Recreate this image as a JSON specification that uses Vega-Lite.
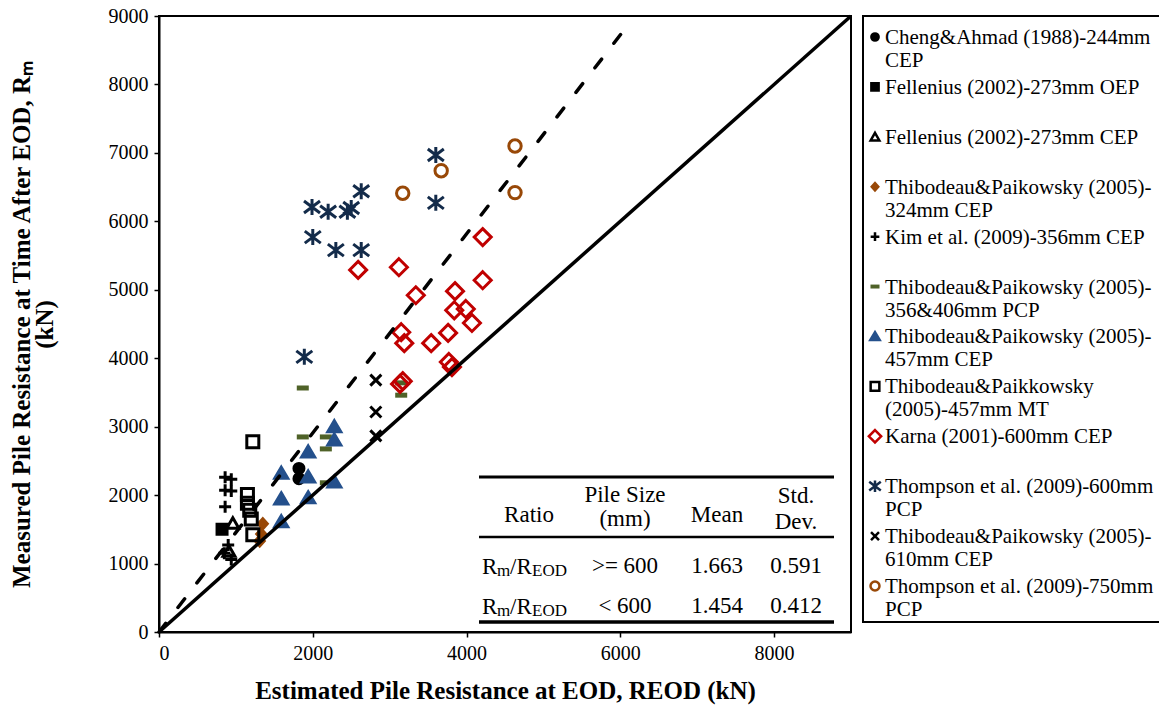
{
  "$schema": "https://vega.github.io/schema/vega-lite/v6.json",
  "background": "white",
  "padding": {"left": 8, "top": 5, "right": 0, "bottom": 5},
  "spacing": 3,
  "config": {
    "font": "Liberation Serif",
    "view": {"stroke": null},
    "axis": {
      "labelFont": "Liberation Serif", "labelFontSize": 20, "labelColor": "black",
      "titleFont": "Liberation Serif", "titleFontSize": 25, "titleFontWeight": "bold", "titleColor": "black",
      "grid": false, "tickColor": "black", "domainColor": "black", "domainWidth": 2, "tickSize": 5, "tickWidth": 1.5, "labelPadding": 6
    },
    "text": {"font": "Liberation Serif", "color": "black"}
  },
  "datasets": {
    "points": [
      {"s": "Cheng&Ahmad (1988)-244mm CEP", "x": 1820, "y": 2390},
      {"s": "Cheng&Ahmad (1988)-244mm CEP", "x": 1820, "y": 2240},
      {"s": "Fellenius (2002)-273mm OEP", "x": 820, "y": 1500},
      {"s": "Fellenius (2002)-273mm CEP", "x": 960, "y": 1590},
      {"s": "Fellenius (2002)-273mm CEP", "x": 910, "y": 1180},
      {"s": "Thibodeau&Paikowsky (2005)-324mm CEP", "x": 1350, "y": 1580},
      {"s": "Thibodeau&Paikowsky (2005)-324mm CEP", "x": 1330, "y": 1430},
      {"s": "Thibodeau&Paikowsky (2005)-324mm CEP", "x": 1310, "y": 1330},
      {"s": "Kim et al. (2009)-356mm CEP", "x": 860, "y": 2260},
      {"s": "Kim et al. (2009)-356mm CEP", "x": 940, "y": 2230},
      {"s": "Kim et al. (2009)-356mm CEP", "x": 860, "y": 2070},
      {"s": "Kim et al. (2009)-356mm CEP", "x": 940, "y": 2060},
      {"s": "Kim et al. (2009)-356mm CEP", "x": 860, "y": 1830},
      {"s": "Kim et al. (2009)-356mm CEP", "x": 900, "y": 1270},
      {"s": "Kim et al. (2009)-356mm CEP", "x": 850, "y": 1150},
      {"s": "Kim et al. (2009)-356mm CEP", "x": 940, "y": 1060},
      {"s": "Thibodeau&Paikowsky (2005)-356&406mm PCP", "x": 1870, "y": 3565},
      {"s": "Thibodeau&Paikowsky (2005)-356&406mm PCP", "x": 1870, "y": 2850},
      {"s": "Thibodeau&Paikowsky (2005)-356&406mm PCP", "x": 2170, "y": 2850},
      {"s": "Thibodeau&Paikowsky (2005)-356&406mm PCP", "x": 2170, "y": 2675},
      {"s": "Thibodeau&Paikowsky (2005)-356&406mm PCP", "x": 2170, "y": 2180},
      {"s": "Thibodeau&Paikowsky (2005)-356&406mm PCP", "x": 3150, "y": 3460},
      {"s": "Thibodeau&Paikowsky (2005)-356&406mm PCP", "x": 3150, "y": 3640},
      {"s": "Thibodeau&Paikowsky (2005)-457mm CEP", "x": 2280, "y": 3000},
      {"s": "Thibodeau&Paikowsky (2005)-457mm CEP", "x": 2280, "y": 2805},
      {"s": "Thibodeau&Paikowsky (2005)-457mm CEP", "x": 1940, "y": 2630},
      {"s": "Thibodeau&Paikowsky (2005)-457mm CEP", "x": 1590, "y": 2320},
      {"s": "Thibodeau&Paikowsky (2005)-457mm CEP", "x": 1940, "y": 2265},
      {"s": "Thibodeau&Paikowsky (2005)-457mm CEP", "x": 2280, "y": 2190},
      {"s": "Thibodeau&Paikowsky (2005)-457mm CEP", "x": 1590, "y": 1945},
      {"s": "Thibodeau&Paikowsky (2005)-457mm CEP", "x": 1940, "y": 1960},
      {"s": "Thibodeau&Paikowsky (2005)-457mm CEP", "x": 1590, "y": 1610},
      {"s": "Thibodeau&Paikkowsky (2005)-457mm MT", "x": 1220, "y": 2780},
      {"s": "Thibodeau&Paikkowsky (2005)-457mm MT", "x": 1150, "y": 2010},
      {"s": "Thibodeau&Paikkowsky (2005)-457mm MT", "x": 1150, "y": 1880},
      {"s": "Thibodeau&Paikkowsky (2005)-457mm MT", "x": 1180, "y": 1780},
      {"s": "Thibodeau&Paikkowsky (2005)-457mm MT", "x": 1200, "y": 1650},
      {"s": "Thibodeau&Paikkowsky (2005)-457mm MT", "x": 1220, "y": 1420},
      {"s": "Karna (2001)-600mm CEP", "x": 2590, "y": 5290},
      {"s": "Karna (2001)-600mm CEP", "x": 3120, "y": 5330},
      {"s": "Karna (2001)-600mm CEP", "x": 4210, "y": 5770},
      {"s": "Karna (2001)-600mm CEP", "x": 4210, "y": 5140},
      {"s": "Karna (2001)-600mm CEP", "x": 3340, "y": 4920},
      {"s": "Karna (2001)-600mm CEP", "x": 3850, "y": 4980},
      {"s": "Karna (2001)-600mm CEP", "x": 3840, "y": 4700},
      {"s": "Karna (2001)-600mm CEP", "x": 3990, "y": 4720},
      {"s": "Karna (2001)-600mm CEP", "x": 4070, "y": 4515},
      {"s": "Karna (2001)-600mm CEP", "x": 3760, "y": 4370},
      {"s": "Karna (2001)-600mm CEP", "x": 3150, "y": 4380},
      {"s": "Karna (2001)-600mm CEP", "x": 3190, "y": 4220},
      {"s": "Karna (2001)-600mm CEP", "x": 3540, "y": 4220},
      {"s": "Karna (2001)-600mm CEP", "x": 3770, "y": 3945},
      {"s": "Karna (2001)-600mm CEP", "x": 3810, "y": 3870},
      {"s": "Karna (2001)-600mm CEP", "x": 3170, "y": 3665},
      {"s": "Karna (2001)-600mm CEP", "x": 3135, "y": 3625},
      {"s": "Thompson et al. (2009)-600mm PCP", "x": 1990, "y": 6210},
      {"s": "Thompson et al. (2009)-600mm PCP", "x": 2200, "y": 6140},
      {"s": "Thompson et al. (2009)-600mm PCP", "x": 2450, "y": 6140},
      {"s": "Thompson et al. (2009)-600mm PCP", "x": 2500, "y": 6195},
      {"s": "Thompson et al. (2009)-600mm PCP", "x": 2630, "y": 6440},
      {"s": "Thompson et al. (2009)-600mm PCP", "x": 2000, "y": 5770},
      {"s": "Thompson et al. (2009)-600mm PCP", "x": 2300, "y": 5580},
      {"s": "Thompson et al. (2009)-600mm PCP", "x": 2630, "y": 5580},
      {"s": "Thompson et al. (2009)-600mm PCP", "x": 3600, "y": 6970},
      {"s": "Thompson et al. (2009)-600mm PCP", "x": 3600, "y": 6270},
      {"s": "Thompson et al. (2009)-600mm PCP", "x": 1890, "y": 4020},
      {"s": "Thibodeau&Paikowsky (2005)-610mm CEP", "x": 2820, "y": 3680},
      {"s": "Thibodeau&Paikowsky (2005)-610mm CEP", "x": 2820, "y": 3215},
      {"s": "Thibodeau&Paikowsky (2005)-610mm CEP", "x": 2820, "y": 2865},
      {"s": "Thompson et al. (2009)-750mm PCP", "x": 3670, "y": 6740},
      {"s": "Thompson et al. (2009)-750mm PCP", "x": 3170, "y": 6410},
      {"s": "Thompson et al. (2009)-750mm PCP", "x": 4630, "y": 7100},
      {"s": "Thompson et al. (2009)-750mm PCP", "x": 4630, "y": 6420}
    ],
    "lines": [
      {"line": "1:1", "x": 0, "y": 0},
      {"line": "1:1", "x": 9000, "y": 9000},
      {"line": "mean", "x": 0, "y": 0},
      {"line": "mean", "x": 6050, "y": 8797}
    ],
    "table": [
      {"kind": "hmid", "row": "head", "col": "Ratio", "text": "Ratio"},
      {"kind": "hmidmean", "row": "head", "col": "Mean", "text": "Mean"},
      {"kind": "hsize", "row": "head", "col": "Pile Size", "text": "Pile Size\n(mm)"},
      {"kind": "hstd", "row": "head", "col": "Std. Dev.", "text": "Std.\nDev."},
      {"kind": "ratio", "row": "r1", "col": "Ratio", "text": "Rm/REOD"},
      {"kind": "size", "row": "r1", "col": "Pile Size", "text": ">= 600"},
      {"kind": "mean", "row": "r1", "col": "Mean", "text": "1.663"},
      {"kind": "std", "row": "r1", "col": "Std. Dev.", "text": "0.591"},
      {"kind": "ratio", "row": "r2", "col": "Ratio", "text": "Rm/REOD"},
      {"kind": "size", "row": "r2", "col": "Pile Size", "text": "< 600"},
      {"kind": "mean", "row": "r2", "col": "Mean", "text": "1.454"},
      {"kind": "std", "row": "r2", "col": "Std. Dev.", "text": "0.412"}
    ],
    "legend": [
      {"s": "Cheng&Ahmad (1988)-244mm CEP", "label": "Cheng&Ahmad (1988)-244mm\nCEP"},
      {"s": "Fellenius (2002)-273mm OEP", "label": "Fellenius (2002)-273mm OEP"},
      {"s": "Fellenius (2002)-273mm CEP", "label": "Fellenius (2002)-273mm CEP"},
      {"s": "Thibodeau&Paikowsky (2005)-324mm CEP", "label": "Thibodeau&Paikowsky (2005)-\n324mm CEP"},
      {"s": "Kim et al. (2009)-356mm CEP", "label": "Kim et al. (2009)-356mm CEP"},
      {"s": "Thibodeau&Paikowsky (2005)-356&406mm PCP", "label": "Thibodeau&Paikowsky (2005)-\n356&406mm PCP"},
      {"s": "Thibodeau&Paikowsky (2005)-457mm CEP", "label": "Thibodeau&Paikowsky (2005)-\n457mm CEP"},
      {"s": "Thibodeau&Paikkowsky (2005)-457mm MT", "label": "Thibodeau&Paikkowsky\n(2005)-457mm MT"},
      {"s": "Karna (2001)-600mm CEP", "label": "Karna (2001)-600mm CEP"},
      {"s": "Thompson et al. (2009)-600mm PCP", "label": "Thompson et al. (2009)-600mm\nPCP"},
      {"s": "Thibodeau&Paikowsky (2005)-610mm CEP", "label": "Thibodeau&Paikowsky (2005)-\n610mm CEP"},
      {"s": "Thompson et al. (2009)-750mm PCP", "label": "Thompson et al. (2009)-750mm\nPCP"}
    ]
  },
  "hconcat": [
    {
      "width": 692,
      "height": 616,
      "view": {"stroke": "black", "strokeWidth": 2},
      "layer": [
        {
          "layer": [
            {
              "data": {"name": "points"},
              "mark": {"type": "point", "filled": true, "strokeWidth": 3, "opacity": 1, "size": 400},
              "encoding": {
                "x": {"field": "x", "type": "quantitative", "scale": {"domain": [0, 9000], "nice": false},
                      "axis": {"values": [0, 2000, 4000, 6000, 8000], "format": "d", "title": "Estimated Pile Resistance at EOD, REOD (kN)", "titlePadding": 15}},
                "y": {"field": "y", "type": "quantitative", "scale": {"domain": [0, 9000], "nice": false},
                      "axis": {"values": [0, 1000, 2000, 3000, 4000, 5000, 6000, 7000, 8000, 9000], "format": "d",
                               "title": ["Measured Pile Resistance at Time After EOD, Rₘ", "(kN)"], "titleLineHeight": 23, "titlePadding": 51}},
                "shape": {"field": "s", "type": "nominal", "legend": null,
                  "scale": {
                    "domain": ["Cheng&Ahmad (1988)-244mm CEP", "Fellenius (2002)-273mm OEP", "Fellenius (2002)-273mm CEP", "Thibodeau&Paikowsky (2005)-324mm CEP", "Kim et al. (2009)-356mm CEP", "Thibodeau&Paikowsky (2005)-356&406mm PCP", "Thibodeau&Paikowsky (2005)-457mm CEP", "Thibodeau&Paikkowsky (2005)-457mm MT", "Karna (2001)-600mm CEP", "Thompson et al. (2009)-600mm PCP", "Thibodeau&Paikowsky (2005)-610mm CEP", "Thompson et al. (2009)-750mm PCP"],
                    "range": [
                      "M-0.5,0A0.5,0.5 0 1,0 0.5,0A0.5,0.5 0 1,0 -0.5,0Z",
                      "M-0.5,-0.5H0.5V0.5H-0.5Z",
                      "M0,-0.55L0.6,0.5H-0.6Z",
                      "M0,-0.5L0.45,0L0,0.5L-0.45,0Z",
                      "M-0.6,0H0.6M0,-0.6V0.6",
                      "M-0.45,-0.1H0.45V0.1H-0.45Z",
                      "M0,-0.6L0.65,0.5H-0.65Z",
                      "M-0.6,-0.6H0.6V0.6H-0.6Z",
                      "M0,-0.85L0.85,0L0,0.85L-0.85,0Z",
                      "M0,-0.8V0.8M-0.8,-0.6L0.8,0.6M-0.8,0.6L0.8,-0.6",
                      "M-0.55,-0.55L0.55,0.55M-0.55,0.55L0.55,-0.55",
                      "M-0.62,0A0.62,0.62 0 1,0 0.62,0A0.62,0.62 0 1,0 -0.62,0Z"
                    ]}},
                "fill": {"field": "s", "type": "nominal", "legend": null,
                  "scale": {
                    "domain": ["Cheng&Ahmad (1988)-244mm CEP", "Fellenius (2002)-273mm OEP", "Fellenius (2002)-273mm CEP", "Thibodeau&Paikowsky (2005)-324mm CEP", "Kim et al. (2009)-356mm CEP", "Thibodeau&Paikowsky (2005)-356&406mm PCP", "Thibodeau&Paikowsky (2005)-457mm CEP", "Thibodeau&Paikkowsky (2005)-457mm MT", "Karna (2001)-600mm CEP", "Thompson et al. (2009)-600mm PCP", "Thibodeau&Paikowsky (2005)-610mm CEP", "Thompson et al. (2009)-750mm PCP"],
                    "range": ["#000000", "#000000", "transparent", "#984807", "transparent", "#4F6228", "#24508C", "transparent", "transparent", "transparent", "transparent", "transparent"]}},
                "stroke": {"field": "s", "type": "nominal", "legend": null,
                  "scale": {
                    "domain": ["Cheng&Ahmad (1988)-244mm CEP", "Fellenius (2002)-273mm OEP", "Fellenius (2002)-273mm CEP", "Thibodeau&Paikowsky (2005)-324mm CEP", "Kim et al. (2009)-356mm CEP", "Thibodeau&Paikowsky (2005)-356&406mm PCP", "Thibodeau&Paikowsky (2005)-457mm CEP", "Thibodeau&Paikkowsky (2005)-457mm MT", "Karna (2001)-600mm CEP", "Thompson et al. (2009)-600mm PCP", "Thibodeau&Paikowsky (2005)-610mm CEP", "Thompson et al. (2009)-750mm PCP"],
                    "range": ["#000000", "#000000", "#000000", "#984807", "#000000", "#4F6228", "#24508C", "#000000", "#C00000", "#132B4A", "#000000", "#984807"]}}
              }
            },
            {
              "data": {"name": "lines"},
              "transform": [{"filter": "datum.line === '1:1'"}],
              "mark": {"type": "line", "color": "black", "strokeWidth": 3.5},
              "encoding": {
                "x": {"field": "x", "type": "quantitative"},
                "y": {"field": "y", "type": "quantitative"}
              }
            },
            {
              "data": {"name": "lines"},
              "transform": [{"filter": "datum.line === 'mean'"}],
              "mark": {"type": "line", "color": "black", "strokeWidth": 3.5, "strokeDash": [11, 20], "strokeCap": "round"},
              "encoding": {
                "x": {"field": "x", "type": "quantitative"},
                "y": {"field": "y", "type": "quantitative"}
              }
            }
          ]
        },
        {
          "data": {"name": "table"},
          "encoding": {
            "x": {"field": "col", "type": "nominal", "axis": null,
                  "scale": {"type": "point", "domain": ["Ratio", "Pile Size", "Mean", "Std. Dev."], "range": [370, 637], "padding": 0}},
            "y": {"field": "row", "type": "nominal", "axis": null,
                  "scale": {"type": "point", "domain": ["head", "r1", "r2"], "range": [510, 590], "padding": 0}}
          },
          "layer": [
            {
              "transform": [{"filter": "datum.kind === 'hsize'"}],
              "mark": {"type": "text", "fontSize": 23, "baseline": "middle", "align": "center", "dx": 7, "dy": -31, "lineBreak": "\n", "lineHeight": 24},
              "encoding": {"text": {"field": "text"}}
            },
            {
              "transform": [{"filter": "datum.kind === 'hstd'"}],
              "mark": {"type": "text", "fontSize": 23, "baseline": "middle", "align": "center", "dy": -30, "lineBreak": "\n", "lineHeight": 26},
              "encoding": {"text": {"field": "text"}}
            },
            {
              "transform": [{"filter": "datum.kind === 'hmid'"}],
              "mark": {"type": "text", "fontSize": 23, "baseline": "middle", "align": "center", "dy": -11},
              "encoding": {"text": {"field": "text"}}
            },
            {
              "transform": [{"filter": "datum.kind === 'hmidmean'"}],
              "mark": {"type": "text", "fontSize": 23, "baseline": "middle", "align": "center", "dy": -11, "dx": 10},
              "encoding": {"text": {"field": "text"}}
            },
            {
              "transform": [{"filter": "datum.kind === 'size'"}],
              "mark": {"type": "text", "fontSize": 23, "baseline": "middle", "align": "center", "dx": 7},
              "encoding": {"text": {"field": "text"}}
            },
            {
              "transform": [{"filter": "datum.kind === 'mean'"}],
              "mark": {"type": "text", "fontSize": 23, "baseline": "middle", "align": "center", "dx": 10},
              "encoding": {"text": {"field": "text"}}
            },
            {
              "transform": [{"filter": "datum.kind === 'std'"}],
              "mark": {"type": "text", "fontSize": 23, "baseline": "middle", "align": "center"},
              "encoding": {"text": {"field": "text"}}
            },
            {
              "transform": [{"filter": "datum.kind === 'ratio'"}],
              "mark": {"type": "text", "fontSize": 23, "baseline": "alphabetic", "align": "left", "dx": -47, "dy": 8},
              "encoding": {"text": {"value": "R"}}
            },
            {
              "transform": [{"filter": "datum.kind === 'ratio'"}],
              "mark": {"type": "text", "fontSize": 17, "baseline": "alphabetic", "align": "left", "dx": -32, "dy": 10},
              "encoding": {"text": {"value": "m"}}
            },
            {
              "transform": [{"filter": "datum.kind === 'ratio'"}],
              "mark": {"type": "text", "fontSize": 23, "baseline": "alphabetic", "align": "left", "dx": -19, "dy": 8},
              "encoding": {"text": {"value": "/R"}}
            },
            {
              "transform": [{"filter": "datum.kind === 'ratio'"}],
              "mark": {"type": "text", "fontSize": 17, "baseline": "alphabetic", "align": "left", "dx": 3, "dy": 10},
              "encoding": {"text": {"value": "EOD"}}
            },
            {
              "transform": [{"filter": "datum.kind === 'ratio' && datum.row === 'r1'"}],
              "mark": {"type": "rule", "color": "black", "strokeWidth": 3, "yOffset": -49, "xOffset": -50, "x2Offset": 38},
              "encoding": {
                "x": {"datum": "Ratio"},
                "x2": {"datum": "Std. Dev."},
                "y": {"datum": "head"}
              }
            },
            {
              "transform": [{"filter": "datum.kind === 'ratio' && datum.row === 'r1'"}],
              "mark": {"type": "rule", "color": "black", "strokeWidth": 2.5, "yOffset": -29, "xOffset": -50, "x2Offset": 38},
              "encoding": {
                "x": {"datum": "Ratio"},
                "x2": {"datum": "Std. Dev."},
                "y": {"datum": "r1"}
              }
            },
            {
              "transform": [{"filter": "datum.kind === 'ratio' && datum.row === 'r1'"}],
              "mark": {"type": "rule", "color": "black", "strokeWidth": 3.5, "yOffset": 16, "xOffset": -50, "x2Offset": 38},
              "encoding": {
                "x": {"datum": "Ratio"},
                "x2": {"datum": "Std. Dev."},
                "y": {"datum": "r2"}
              }
            }
          ]
        }
      ],
      "resolve": {"scale": {"x": "independent", "y": "independent"}, "axis": {"x": "independent", "y": "independent"}}
    },
    {
      "width": 300,
      "height": 606,
      "view": {"stroke": "black", "strokeWidth": 2},
      "data": {"name": "legend"},
      "encoding": {
        "y": {"field": "s", "type": "nominal", "axis": null,
              "scale": {"type": "point", "domain": ["Cheng&Ahmad (1988)-244mm CEP", "Fellenius (2002)-273mm OEP", "Fellenius (2002)-273mm CEP", "Thibodeau&Paikowsky (2005)-324mm CEP", "Kim et al. (2009)-356mm CEP", "Thibodeau&Paikowsky (2005)-356&406mm PCP", "Thibodeau&Paikowsky (2005)-457mm CEP", "Thibodeau&Paikkowsky (2005)-457mm MT", "Karna (2001)-600mm CEP", "Thompson et al. (2009)-600mm PCP", "Thibodeau&Paikowsky (2005)-610mm CEP", "Thompson et al. (2009)-750mm PCP"],
                        "range": [21, 570], "padding": 0}}
      },
      "layer": [
        {
          "mark": {"type": "point", "filled": true, "strokeWidth": 2.5, "opacity": 1, "size": 210},
          "encoding": {
            "x": {"datum": "symbol", "type": "nominal", "axis": null, "scale": {"type": "point", "domain": ["symbol", "label"], "range": [12, 22], "padding": 0}},
            "shape": {"field": "s", "type": "nominal", "legend": null},
            "fill": {"field": "s", "type": "nominal", "legend": null},
            "stroke": {"field": "s", "type": "nominal", "legend": null}
          }
        },
        {
          "mark": {"type": "text", "fontSize": 21, "align": "left", "baseline": "alphabetic", "dy": 7, "lineBreak": "\n", "lineHeight": 23},
          "encoding": {
            "x": {"datum": "label", "type": "nominal", "axis": null},
            "text": {"field": "label"}
          }
        }
      ]
    }
  ]
}
